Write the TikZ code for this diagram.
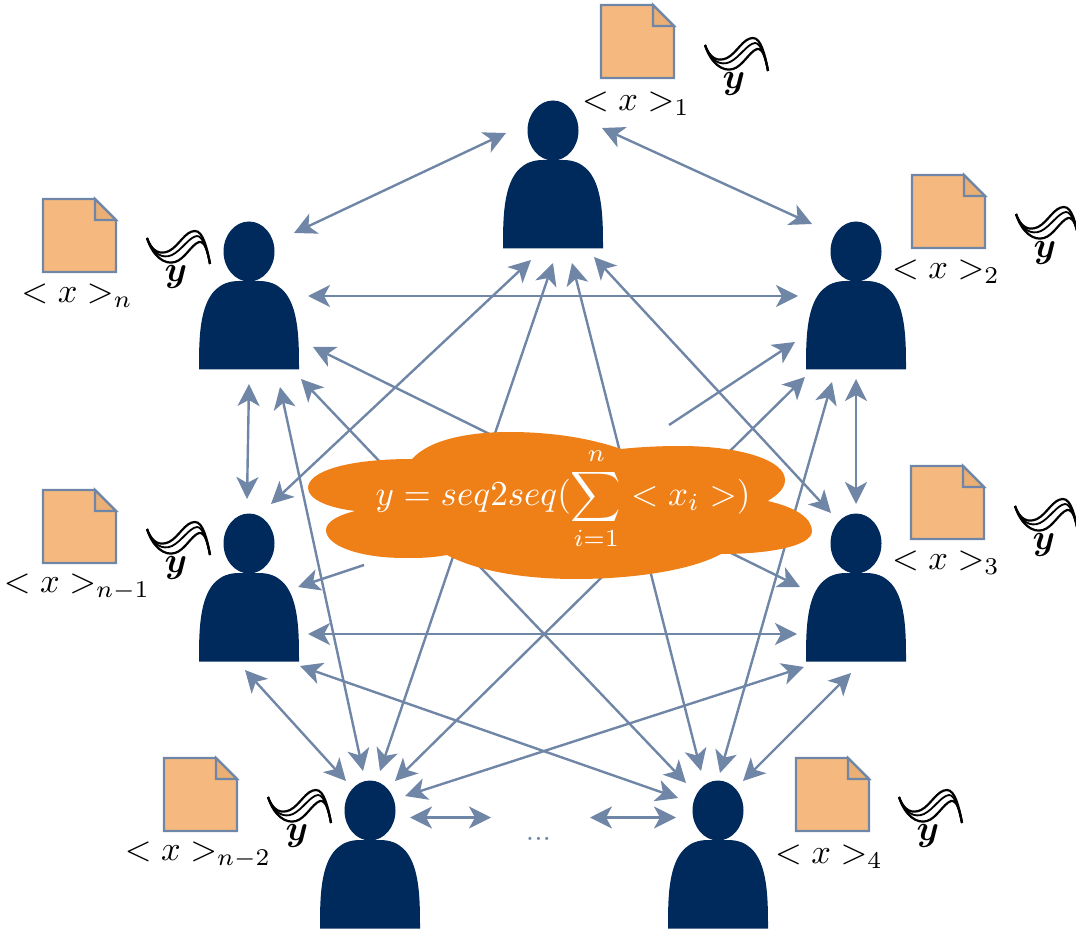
\documentclass[tikz,border=0pt]{standalone}
\usepackage{amsmath, amssymb}
\usepackage{xcolor}
\usetikzlibrary{arrows.meta, positioning, calc}
\definecolor{usernavy}{HTML}{002A5C}
\definecolor{linkslate}{HTML}{7086A6}
\definecolor{cloudorange}{HTML}{EF7F17}
\definecolor{paperfill}{HTML}{F5B97F}
\definecolor{foldfill}{HTML}{E9AF75}
\tikzset{
  userbox/.style={
    rectangle, inner sep=0pt, minimum width=50pt, minimum height=73.5pt
  },
  mathlabel/.style={
    scale=1.72, transform shape
  },
  linkarrow/.style={
    line width=1.2pt, draw=linkslate, <->, >={Stealth[length=11pt, width=11pt, inset=3pt]}
  },
  sidearrow/.style={
    linkarrow, <-
  },
  userfig/.pic={
    \fill[usernavy] (0,-44.5) ellipse [x radius=25.5, y radius=30];
    \fill[usernavy] (-50,73.5) .. controls (-50,35) and (-50,-15) .. (-10,-15) -- (10,-15)
      .. controls (50,-15) and (50,35) .. (50,73.5) -- cycle;
  },
  paperfig/.pic={
    \draw[line width=1.2pt, draw=linkslate, fill=paperfill] (0,0) -- (52,0) -- (73,21) -- (73,73) -- (0,73) -- cycle;
    \draw[line width=1.2pt, draw=linkslate, fill=foldfill] (52,0) -- (52,21) -- (73,21) -- cycle;
  },
  wavefig/.pic={
    \draw[line width=1.1pt] (0,0) .. controls (5,14) and (13,17) .. (22,13) .. controls (32,8) and (38,-7) .. (48,-7) .. controls (56,-7) and (60,10) .. (63,26);
    \draw[line width=0.9pt] (0,0) .. controls (6,17) and (16,21) .. (25,17) .. controls (35,12) and (42,-1) .. (50,-2) .. controls (56,-2) and (60,12) .. (63,26);
    \draw[line width=1.1pt] (0,0) .. controls (6,19) and (18,27) .. (28,24) .. controls (38,21) and (44,7) .. (52,4) .. controls (58,3) and (61,14) .. (63,26);
    \node[scale=1.8, transform shape] (-sym) at (29,39) {$\boldsymbol{y}$};
  }
}
\begin{document}
\begin{tikzpicture}[x=0.5pt, y=-0.5pt]
  \useasboundingbox (0,0) rectangle (1076,930);

  % users
  \foreach \name/\x/\y in {user1/553/175, user2/856/296, user3/856/588, user4/718/855,
      usernB/370/855, usernA/249/588, usern/249/296} {
    \node[userbox] (\name) at (\x,\y) {};
    \pic at (\name.center) {userfig};
  }

  % papers and labels
  \foreach \name/\px/\py/\lx/\ly/\sub in {a/601/5/636/104/1, b/912/175/946/272/2, c/911/466/946/563/3,
      d/796/758/829/857/4, e/164/758/198/855/n-2, f/43/490/77/587/n-1, g/43/199/77/296/n} {
    \pic at (\px,\py) {paperfig};
    \node[mathlabel] (label\name) at (\lx,\ly) {$< x >_{\sub}$};
  }

  % waves
  \foreach \name/\wx/\wy in {a/705/45, b/1016/214, c/1015/506, d/899/797, e/268/797, f/147/529, g/147/238} {
    \pic (wave\name) at (\wx,\wy) {wavefig};
  }

  \node[text=linkslate, scale=1.5, transform shape] (dots) at (538.5,839) {...};
  \coordinate (tailA) at (364,565);
  \coordinate (tailB) at (669,425);

  % links between users
  \foreach \a/\ax/\ay/\b/\bx/\by in {
      user1/-47/-42/usern/45/-63, user1/49/-47/user2/-44/-72, usern/59/0/user2/-58/0,
      usern/0/88/usernA/-2/-89, user2/0/83/user3/0/-84, usernA/59/46/user3/-59/46,
      usernA/-4/82/usernB/-24/-74, user3/-5/85/user4/25/-74, usernA/51/78/user4/-40/-57,
      user3/-52/79/usernB/35/-59, usern/31/91/usernB/-7/-84, user2/-24/86/user4/2/-82,
      user1/-22/85/usernA/22/-84, user1/41/82/user3/-25/-75, user1/0/88/usernB/10/-84,
      user1/19/88/user4/-17/-84, usern/64/51/user3/-56/-1, usern/52/83/user4/-32/-72,
      user2/-51/81/usernB/25/-74} {
    \draw[linkarrow] ([shift={(\ax,\ay)}]\a.center) -- ([shift={(\bx,\by)}]\b.center);
  }
  \draw[linkarrow] ([shift={(40,-37.5)}]usernB.center) -- ([shift={(-47.5,-21.5)}]dots.center);
  \draw[linkarrow] ([shift={(51.5,-21.5)}]dots.center) -- ([shift={(-42,-37.5)}]user4.center);
  \draw[sidearrow] ([shift={(49,-1)}]usernA.center) -- (tailA);
  \draw[sidearrow] ([shift={(-61,46)}]user2.center) -- (tailB);

  % cloud
  \fill[cloudorange] (412,459) .. controls (430,439) and (470,432) .. (510,432)
    .. controls (550,432) and (590,438) .. (621,449)
    .. controls (640,447) and (660,446) .. (680,446)
    .. controls (740,446) and (785,460) .. (785,480)
    .. controls (785,488) and (778,495) .. (767.6,501)
    .. controls (795,507) and (812,518) .. (812,531)
    .. controls (812,546) and (770,554) .. (721,554)
    .. controls (690,571) and (630,579) .. (576,579)
    .. controls (520,579) and (475,570) .. (447,555)
    .. controls (430,558) and (420,558) .. (405,558)
    .. controls (360,558) and (326,546) .. (326,530)
    .. controls (326,522) and (338,515) .. (355.5,511)
    .. controls (328,508) and (308,499) .. (308,488)
    .. controls (308,472) and (345,459) .. (412,459) -- cycle;
  \node[text=white, scale=1.75, transform shape] (cloud) at (563,499) {$\displaystyle y = seq2seq(\sum_{i=1}^{n} < x_i >)$};
\end{tikzpicture}
\end{document}
